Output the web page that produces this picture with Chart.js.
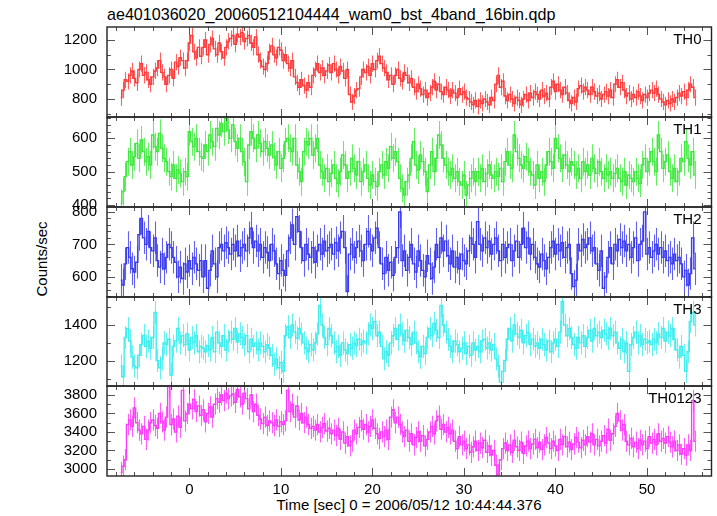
<!DOCTYPE html>
<html>
<head>
<meta charset="utf-8">
<script src="https://cdn.jsdelivr.net/npm/chart.js@4.4.1/dist/chart.umd.min.js"></script>
<style>
  body { margin: 0; background: #fff; width: 717px; height: 516px; position: relative; overflow: hidden;
         font-family: "Liberation Sans", Arial, sans-serif; color: #000; }
  .panel { position: absolute; left: 0; }
  #title { position: absolute; left: 107px; top: 5px; font-size: 16.1px; white-space: nowrap; }
  #ylab { position: absolute; left: 41px; top: 259px; font-size: 15px; white-space: nowrap;
          transform: translate(-50%, -50%) rotate(-90deg); }
  #xlab { position: absolute; left: 409px; top: 496px; font-size: 15px; white-space: nowrap;
          transform: translateX(-50%); }
</style>
</head>
<body>
<div id="title">ae401036020_20060512104444_wam0_bst_4band_16bin.qdp</div>
<div id="ylab">Counts/sec</div>
<div id="xlab">Time [sec] 0 = 2006/05/12 10:44:44.376</div>

<script>
// light curve: 0.25 s bins, first bin centre at -7.5 s
const binStart = -7.5;
const binSize = 0.25;

const xTicks = [0, 10, 20, 30, 40, 50];

const th0 = [
  810, 860, 930, 920, 960, 990, 940, 910, 1000, 1040, 960, 980,
  930, 900, 950, 990, 1010, 1060, 980, 950, 900, 960, 1000, 940,
  1050, 1020, 1080, 1060, 1010, 1060, 1180, 1230, 1120, 1080, 1150, 1090,
  1150, 1200, 1100, 1170, 1210, 1140, 1100, 1180, 1120, 1080, 1150, 1190,
  1210, 1230, 1170, 1240, 1220, 1250, 1190, 1210, 1230, 1180, 1150, 1220,
  1100, 1060, 1020, 1000, 1040, 1120, 1160, 1100, 1080, 1150, 1130, 1060,
  1100, 1040, 1010, 1060, 950, 910, 880, 930, 890, 860, 910, 880,
  960, 1000, 1040, 980, 1010, 960, 990, 1030, 980, 1040, 1000, 960,
  1020, 990, 940, 1000, 830, 780, 820, 860, 870, 950, 1000, 980,
  1020, 960, 1040, 1000, 1060, 1090, 1040, 1010, 980, 930, 960, 900,
  960, 1000, 940, 920, 980, 960, 910, 940, 880, 850, 900, 870,
  830, 860, 810, 840, 880, 920, 860, 900, 850, 830, 880, 860,
  820, 860, 840, 810, 870, 830, 850, 810, 800, 780, 760, 790,
  750, 790, 770, 800, 780, 760, 810, 790, 900, 960, 880, 920,
  820, 790, 830, 800, 770, 810, 790, 760, 800, 830, 790, 840,
  810, 850, 830, 800, 860, 820, 840, 800, 880, 920, 850, 900,
  860, 830, 880, 840, 790, 770, 810, 780, 870, 890, 850, 880,
  860, 830, 880, 850, 820, 840, 800, 830, 850, 820, 860, 810,
  900, 930, 880, 910, 860, 820, 840, 800, 830, 810, 850, 820,
  790, 830, 810, 840, 860, 840, 870, 830, 800, 780, 760, 790,
  770, 800, 780, 810, 840, 820, 850, 810, 860, 900, 880, 810
];

const th1 = [
  405, 440, 485, 530, 560, 520, 545, 585, 540, 595, 560, 530,
  545, 520, 610, 575, 560, 615, 570, 540, 530, 500, 485, 520,
  480, 505, 495, 470, 500, 485, 620, 590, 575, 600, 560, 545,
  540, 580, 560, 610, 590, 575, 630, 610, 645, 620, 660, 625,
  600, 640, 590, 570, 600, 560, 530, 470, 580, 620, 600, 570,
  610, 585, 560, 590, 570, 550, 580, 545, 520, 560, 510, 540,
  590, 600, 570, 560, 600, 520, 500, 470, 560, 590, 580, 600,
  550, 570, 600, 520, 500, 480, 510, 470, 495, 520, 480, 465,
  500, 550, 520, 480, 500, 540, 510, 490, 530, 470, 500, 520,
  480, 460, 490, 470, 455, 500, 520, 490, 530, 510, 575, 540,
  560, 530, 480, 450, 430, 470, 490, 540, 590, 520, 505, 550,
  530, 500, 440, 520, 560, 500, 540, 610, 580, 540, 520, 500,
  490, 510, 480, 500, 470, 460, 490, 430, 460, 480, 500, 470,
  500, 480, 510, 470, 495, 520, 490, 480, 500, 485, 510, 470,
  530, 560, 520, 510, 610, 560, 540, 520, 510, 545, 530, 500,
  490, 460, 520, 480, 500, 470, 520, 560, 530, 510, 600, 570,
  540, 510, 550, 520, 500, 530, 520, 490, 510, 480, 530, 500,
  520, 490, 540, 510, 495, 530, 500, 480, 510, 490, 500, 480,
  495, 510, 480, 470, 500, 460, 490, 480, 470, 500, 480, 465,
  520, 540, 500, 530, 560, 530, 500, 610, 560, 510, 530, 550,
  500, 480, 510, 470, 500, 540, 530, 590, 540, 520, 560, 490
];

const th2 = [
  590, 575, 640, 690, 660, 625, 615, 645, 730, 780, 720, 700,
  740, 690, 680, 720, 650, 630, 670, 625, 660, 700, 690, 660,
  645, 600, 630, 595, 640, 615, 650, 625, 660, 640, 620, 650,
  600, 650, 565, 620, 680, 640, 600, 690, 700, 680, 705, 690,
  670, 700, 680, 710, 665, 690, 700, 680, 720, 750, 690, 710,
  680, 700, 660, 690, 675, 650, 700, 680, 640, 610, 650, 620,
  605, 680, 720, 760, 700, 785, 740, 690, 650, 700, 670, 660,
  690, 645, 680, 700, 670, 710, 680, 690, 700, 670, 705, 680,
  720, 740, 690, 555, 670, 700, 660, 690, 710, 680, 650, 700,
  740, 700, 680, 720, 750, 690, 640, 610, 660, 620, 645, 605,
  660, 690, 800, 650, 680, 620, 660, 700, 640, 615, 680, 650,
  620, 600, 665, 640, 595, 630, 700, 660, 720, 680, 710, 665,
  640, 680, 630, 660, 625, 670, 650, 640, 680, 720, 700, 660,
  770, 700, 680, 720, 690, 710, 670, 700, 720, 680, 650, 700,
  660, 690, 700, 650, 680, 710, 660, 700, 750, 690, 720, 670,
  700, 660, 640, 630, 670, 650, 625, 660, 690, 710, 670, 700,
  680, 705, 660, 690, 700, 610, 570, 590, 700, 680, 715, 690,
  700, 720, 680, 690, 640, 620, 680, 565, 600, 660, 690, 640,
  700, 680, 715, 690, 710, 680, 700, 660, 690, 720, 650, 700,
  710, 800, 670, 690, 660, 680, 700, 670, 690, 660, 680, 650,
  660, 640, 670, 650, 660, 640, 600, 620, 575, 610, 720, 625
];

const th3 = [
  1170, 1110, 1330, 1380, 1310, 1220, 1170, 1160, 1230, 1290, 1340, 1280,
  1310, 1270, 1330, 1470, 1200, 1160, 1210, 1300, 1290, 1320, 1120, 1280,
  1310, 1380, 1300, 1340, 1290, 1350, 1260, 1330, 1300, 1340, 1250, 1280,
  1270, 1250, 1285, 1260, 1330, 1250, 1360, 1300, 1280, 1340, 1260, 1310,
  1360, 1320, 1380, 1305, 1350, 1330, 1290, 1340, 1250, 1320, 1280, 1300,
  1260, 1300, 1280, 1250, 1290, 1270, 1230, 1180, 1210, 1160, 1190, 1140,
  1340, 1390, 1330, 1400, 1360, 1325, 1380, 1350, 1300, 1270, 1250, 1290,
  1260, 1300, 1350, 1510, 1400, 1330, 1290, 1380, 1340, 1300, 1250, 1280,
  1230, 1300, 1260, 1240, 1290, 1270, 1300, 1285, 1320, 1290, 1310, 1300,
  1350, 1400, 1380, 1420, 1340, 1360, 1280, 1210, 1250, 1230, 1300, 1340,
  1380, 1320, 1400, 1350, 1310, 1370, 1330, 1290, 1360, 1300, 1250, 1220,
  1280, 1240, 1330, 1380, 1340, 1410, 1370, 1330, 1510, 1400, 1360, 1320,
  1280, 1250, 1310, 1290, 1250, 1270, 1300, 1240, 1280, 1230, 1300, 1260,
  1280, 1250, 1310, 1320, 1270, 1300, 1260, 1290, 1210, 1170, 1080, 1140,
  1200, 1320, 1380, 1310, 1400, 1350, 1330, 1370, 1300, 1340, 1360, 1290,
  1320, 1280, 1300, 1270, 1320, 1290, 1260, 1310, 1250, 1300, 1320, 1280,
  1360, 1530, 1400, 1340, 1380, 1330, 1290, 1270, 1330, 1300, 1340, 1280,
  1330, 1370, 1310, 1380, 1340, 1360, 1330, 1370, 1350, 1325, 1380, 1340,
  1360, 1300, 1270, 1320, 1250, 1300, 1140, 1290, 1330, 1360, 1300, 1340,
  1290, 1320, 1300, 1310, 1290, 1320, 1300, 1350, 1330, 1380, 1310, 1360,
  1340, 1380, 1320, 1260, 1220, 1280, 1230, 1140, 1250, 1420, 1470, 1400
];

const th0123 = [
  2960, 3030, 3100, 3480, 3530, 3460, 3660, 3500, 3420, 3380, 3460, 3320,
  3420, 3500, 3530, 3470, 3440, 3600, 3510, 3420, 3560, 3890, 3480, 3540,
  3400, 3570, 3450, 3850, 3520, 3600, 3700, 3650, 3750, 3620, 3680, 3580,
  3640, 3510, 3600, 3670, 3560, 3700, 3760, 3720, 3800, 3740, 3820, 3760,
  3790, 3810, 3720, 3860, 3780, 3700, 3820, 3760, 3650, 3800, 3620, 3700,
  3580, 3540, 3490, 3560, 3470, 3520, 3500, 3470, 3530, 3460, 3510, 3480,
  3520, 3850, 3620, 3700, 3560, 3680, 3530, 3600, 3500, 3560, 3480, 3440,
  3460, 3420, 3480, 3400, 3450, 3490, 3410, 3440, 3380, 3420, 3360, 3440,
  3320, 3400, 3280, 3350, 3250, 3300, 3420, 3380, 3450, 3520, 3430, 3480,
  3400, 3460, 3530, 3440, 3380, 3330, 3400, 3350, 3420, 3320, 3560, 3640,
  3500, 3560, 3480, 3400, 3350, 3420, 3300, 3380, 3260, 3340, 3400, 3300,
  3360, 3250, 3320, 3400, 3460, 3380, 3520, 3570, 3430, 3480, 3400, 3450,
  3380, 3420, 3300, 3220, 3350, 3260, 3300, 3220, 3260, 3180, 3240, 3300,
  3200, 3280, 3230, 3310, 3180, 3250, 3150, 3200, 3040, 2940, 3100, 3220,
  3280, 3200, 3260, 3180, 3310, 3240, 3200, 3290, 3170, 3250, 3300, 3220,
  3270, 3320, 3230, 3290, 3210, 3260, 3340, 3280, 3220, 3300, 3250, 3200,
  3320, 3260, 3350, 3240, 3290, 3210, 3270, 3340, 3290, 3230, 3310, 3260,
  3350, 3290, 3380, 3260, 3320, 3250, 3300, 3360, 3280, 3430, 3310, 3380,
  3460, 3600, 3520, 3420, 3480, 3300, 3260, 3330, 3240, 3290, 3220, 3310,
  3260, 3300, 3220, 3350, 3280, 3320, 3260, 3380, 3300, 3330, 3280, 3350,
  3290, 3240, 3300, 3200, 3260, 3160, 3220, 3150, 3260, 3200, 3740, 3300
];

// typical 1-sigma error
const errTH0 = 55, errTH1 = 42, errTH2 = 50, errTH3 = 65, errTH0123 = 115;

const yTicksTH0 = [800, 1000, 1200];
const yTicksTH1 = [400, 500, 600];
const yTicksTH2 = [600, 700, 800];
const yTicksTH3 = [1200, 1400];
const yTicksTH0123 = [3000, 3200, 3400, 3600, 3800];

const panels = [
  { name: 'TH0', data: th0, err: errTH0, color: '#ff3a3a', ticks: yTicksTH0, min: 678, max: 1288, minor: 100, major: 200, top: 27, h: 90 },
  { name: 'TH1', data: th1, err: errTH1, color: '#3ee83e', ticks: yTicksTH1, min: 394, max: 664, minor: 20, major: 100, top: 117, h: 90 },
  { name: 'TH2', data: th2, err: errTH2, color: '#3a3aee', ticks: yTicksTH2, min: 538, max: 815, minor: 20, major: 100, top: 207, h: 90 },
  { name: 'TH3', data: th3, err: errTH3, color: '#3eeeee', ticks: yTicksTH3, min: 1058, max: 1557, minor: 100, major: 200, top: 297, h: 89 },
  { name: 'TH0123', data: th0123, err: errTH0123, color: '#ff3aff', ticks: yTicksTH0123, min: 2924, max: 3897, minor: 100, major: 200, top: 386, h: 90 }
];

const X_MIN = -9, X_MAX = 57.05;
const PLOT_LEFT = 107, PLOT_RIGHT = 711.5;
const PAD = 12;
const XAXIS_H = 30;

Chart.defaults.font.family = '"Liberation Sans", Arial, sans-serif';
Chart.defaults.font.size = 15;
Chart.defaults.color = '#000';

// error bars, frame, inward ticks and panel label
const qdpPlugin = {
  id: 'qdp',
  beforeDatasetsDraw(chart) {
    const p = chart.options.plugins.qdp;
    const xs = chart.scales.x, ys = chart.scales.y, a = chart.chartArea;
    const ctx = chart.ctx;
    const pts = chart.data.datasets[0].data;
    ctx.save();
    ctx.beginPath();
    ctx.rect(a.left, a.top, a.right - a.left, a.bottom - a.top);
    ctx.clip();
    ctx.strokeStyle = p.color;
    ctx.globalAlpha = 0.8;
    ctx.lineWidth = 1.1;
    ctx.beginPath();
    pts.forEach(pt => {
      const x = Math.round(xs.getPixelForValue(pt.x)) + 0.5;
      ctx.moveTo(x, ys.getPixelForValue(pt.y - p.err));
      ctx.lineTo(x, ys.getPixelForValue(pt.y + p.err));
    });
    ctx.stroke();
    ctx.restore();
  },
  afterDraw(chart) {
    const p = chart.options.plugins.qdp;
    const xs = chart.scales.x, ys = chart.scales.y, a = chart.chartArea;
    const ctx = chart.ctx;
    ctx.save();
    ctx.strokeStyle = '#555';
    ctx.lineWidth = 1;
    ctx.beginPath();
    for (let t = -8; t <= 56; t += 2) {
      const x = Math.round(xs.getPixelForValue(t)) + 0.5;
      const len = (t % 10 === 0) ? 8 : 4;
      ctx.moveTo(x, a.top); ctx.lineTo(x, a.top + len);
      ctx.moveTo(x, a.bottom); ctx.lineTo(x, a.bottom - len);
    }
    const first = Math.ceil(p.min / p.minor) * p.minor;
    for (let v = first; v <= p.max; v += p.minor) {
      const y = Math.round(ys.getPixelForValue(v)) + 0.5;
      const len = (v % p.major === 0) ? 8 : 4;
      ctx.moveTo(a.left, y); ctx.lineTo(a.left + len, y);
      ctx.moveTo(a.right, y); ctx.lineTo(a.right - len, y);
    }
    ctx.stroke();
    ctx.strokeStyle = '#222';
    ctx.lineWidth = 1.4;
    ctx.strokeRect(a.left, a.top, a.right - a.left, a.bottom - a.top);
    ctx.fillStyle = '#000';
    ctx.font = '15px "Liberation Sans", Arial, sans-serif';
    ctx.textAlign = 'right';
    ctx.textBaseline = 'top';
    ctx.fillText(p.name, a.right - 10, a.top + 5);
    ctx.restore();
  }
};

panels.forEach((p, i) => {
  const last = i === panels.length - 1;
  const extra = last ? 40 : 0;
  const cv = document.createElement('canvas');
  cv.className = 'panel';
  cv.width = 717;
  cv.height = p.h + 2 * PAD + extra;
  cv.style.top = (p.top - PAD) + 'px';
  document.body.appendChild(cv);

  const points = p.data.map((v, k) => ({ x: binStart + k * binSize, y: v }));

  const chart = new Chart(cv.getContext('2d'), {
    type: 'line',
    data: {
      datasets: [{
        data: points,
        borderColor: p.color,
        borderWidth: 1.4,
        pointRadius: 0,
        stepped: 'middle',
        fill: false,
        clip: 0
      }]
    },
    options: {
      responsive: false,
      animation: false,
      events: [],
      layout: { padding: { left: 0, right: 717 - PLOT_RIGHT, top: PAD, bottom: last ? PAD + extra - XAXIS_H : PAD } },
      plugins: {
        legend: { display: false },
        tooltip: { enabled: false },
        qdp: { name: p.name, color: p.color, err: p.err, min: p.min, max: p.max, minor: p.minor, major: p.major }
      },
      scales: {
        x: {
          type: 'linear',
          min: X_MIN,
          max: X_MAX,
          display: last,
          afterBuildTicks: s => { s.ticks = xTicks.map(v => ({ value: v })); },
          afterFit: s => { s.height = last ? XAXIS_H : 0; s.paddingLeft = 0; s.paddingRight = 0; },
          grid: { display: false, drawTicks: false },
          border: { display: false },
          ticks: { padding: 5, maxRotation: 0, autoSkip: false, callback: v => String(v) }
        },
        y: {
          type: 'linear',
          min: p.min,
          max: p.max,
          afterBuildTicks: s => { s.ticks = p.ticks.map(v => ({ value: v })); },
          afterFit: s => { s.width = PLOT_LEFT; s.paddingTop = 0; s.paddingBottom = 0; },
          grid: { display: false, drawTicks: false },
          border: { display: false },
          ticks: { padding: 10, autoSkip: false, callback: v => String(v) }
        }
      }
    },
    plugins: [qdpPlugin]
  });

  // nudge the padding until the plot box sits where the panel should be
  for (let it = 0; it < 4; it++) {
    const ca = chart.chartArea;
    const pad = chart.options.layout.padding;
    const dTop = PAD - ca.top, dBot = (PAD + p.h) - ca.bottom, dRight = PLOT_RIGHT - ca.right;
    if (Math.abs(dTop) < 0.2 && Math.abs(dBot) < 0.2 && Math.abs(dRight) < 0.2) break;
    pad.top += dTop;
    pad.bottom -= dBot;
    pad.right -= dRight;
    chart.update();
  }
});
</script>
</body>
</html>
